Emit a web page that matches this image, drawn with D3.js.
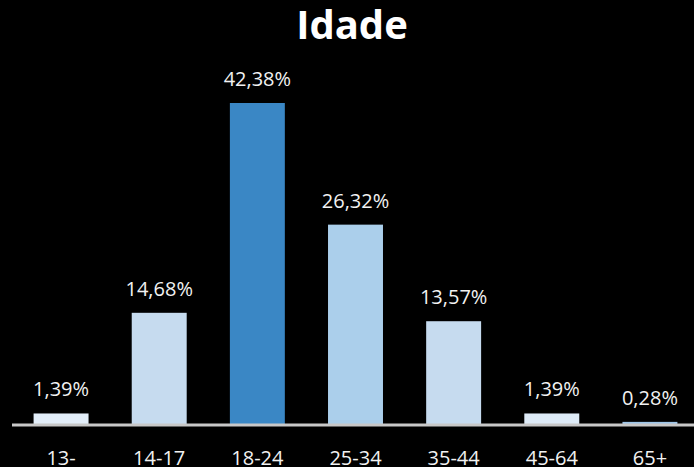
<!DOCTYPE html>
<html><head><meta charset="utf-8">
<script src="https://cdn.jsdelivr.net/npm/d3@7"></script>
<style>html,body{margin:0;padding:0;background:#000;}svg{display:block;}</style>
</head><body>
<svg id="c" width="694" height="467"></svg>
<script>
const categories = ["13-", "14-17", "18-24", "25-34", "35-44", "45-64", "65+"];
const values = [1.39, 14.68, 42.38, 26.32, 13.57, 1.39, 0.28];
const valueLabels = ["1,39%", "14,68%", "42,38%", "26,32%", "13,57%", "1,39%", "0,28%"];
const colors = ["#e3eef9", "#c6dbef", "#3a87c5", "#abcfeb", "#c6dbef", "#deebf7", "#9ec5e8"];
const title = "Idade";

const svg = d3.select("#c");
const W = 694, H = 467;
const base = 424;
const x = d3.scaleBand().domain(categories).range([12, 699]).paddingInner(0.44).paddingOuter(0.22);
const y = d3.scaleLinear().domain([0, 42.38]).range([base, 103]);
const font = "'Open Sans', Carlito, sans-serif";

svg.append("rect").attr("width", W).attr("height", H).attr("fill", "#000");

svg.append("text").attr("x", 352).attr("y", 39).attr("text-anchor", "middle")
  .attr("fill", "#fff").attr("font-family", font).attr("font-weight", "bold")
  .attr("font-size", 40).text(title);

svg.selectAll("rect.bar").data(values).join("rect").attr("class", "bar")
  .attr("x", (d, i) => x(categories[i])).attr("width", x.bandwidth())
  .attr("y", d => y(d)).attr("height", d => base - y(d))
  .attr("fill", (d, i) => colors[i]);

svg.selectAll("text.val").data(values).join("text").attr("class", "val")
  .attr("x", (d, i) => x(categories[i]) + x.bandwidth() / 2)
  .attr("y", d => y(d) - 17).attr("text-anchor", "middle")
  .attr("fill", "#f2f2f2").attr("font-family", font).attr("font-size", 20)
  .text((d, i) => valueLabels[i]);

const axis = d3.axisBottom(x).tickSize(0).tickPadding(26);
const g = svg.append("g").attr("transform", `translate(0,${base + 1})`).call(axis);
g.select(".domain").attr("stroke", "#c8c8c8").attr("stroke-width", 3)
  .attr("d", `M12,0H694`);
g.selectAll("text").attr("fill", "#f2f2f2").attr("font-family", font).attr("font-size", 20);
</script>
</body></html>
